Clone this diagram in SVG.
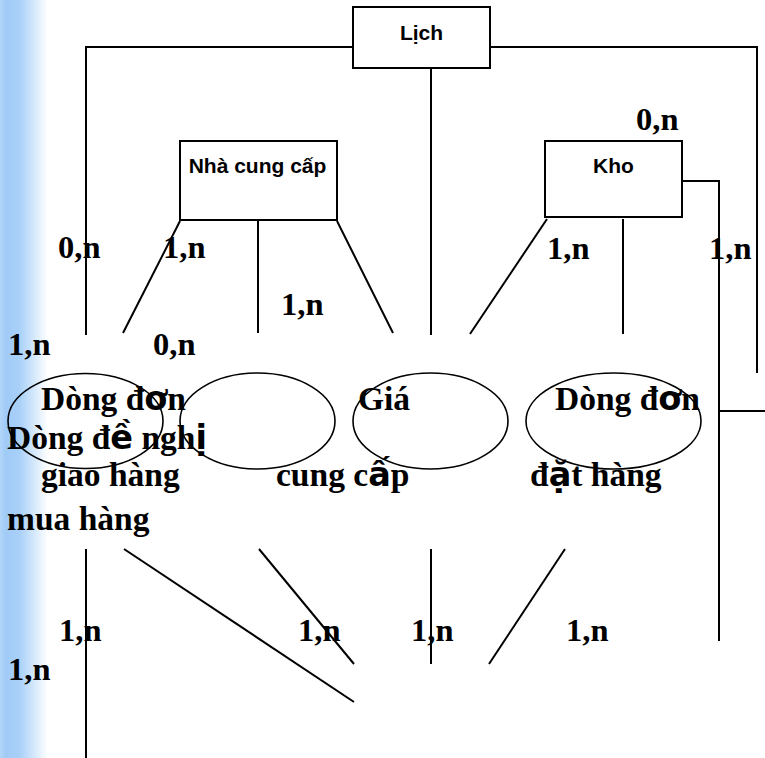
<svg xmlns="http://www.w3.org/2000/svg" width="765" height="758" viewBox="0 0 765 758">
  <defs>
    <linearGradient id="sideBar" x1="0" y1="0" x2="1" y2="0">
      <stop offset="0" stop-color="#b3d6f9"/>
      <stop offset="0.12" stop-color="#a0cbf7"/>
      <stop offset="0.4" stop-color="#a8d0f8"/>
      <stop offset="1" stop-color="#ffffff"/>
    </linearGradient>
  </defs>
  <style>
    .box { fill: #ffffff; stroke: #000000; stroke-width: 2; }
    .oval { fill: none; stroke: #000000; stroke-width: 1.6; }
    .wire { fill: none; stroke: #000000; stroke-width: 2; }
    .ent { font-family: "Liberation Sans", Arial, sans-serif; font-weight: bold; font-size: 21px; fill: #000000; }
    .card { font-family: "Liberation Serif", "Times New Roman", serif; font-weight: bold; font-size: 32.5px; fill: #000000; }
    .lbl { font-family: "Liberation Serif", "Times New Roman", serif; font-weight: bold; font-size: 33.5px; fill: #000000; }
    .alt { font-family: "DejaVu Sans", sans-serif; font-weight: bold; }
  </style>

  <!-- left side bar -->
  <rect x="0" y="0" width="48" height="758" fill="url(#sideBar)"/>

  <!-- connectors -->
  <g id="connectors">
    <polyline class="wire" points="86,335 86,47 353,47"/>
    <polyline class="wire" points="490,47 757,47 757,373"/>
    <line class="wire" x1="431" y1="68" x2="431" y2="335"/>
    <line class="wire" x1="180" y1="221" x2="123" y2="333"/>
    <line class="wire" x1="258" y1="219" x2="258" y2="333"/>
    <line class="wire" x1="337" y1="221" x2="393" y2="333"/>
    <line class="wire" x1="547" y1="219" x2="470" y2="334"/>
    <line class="wire" x1="623" y1="219" x2="623" y2="334"/>
    <polyline class="wire" points="682,181 719,181 719,641"/>
    <line class="wire" x1="719" y1="411" x2="765" y2="411"/>
    <line class="wire" x1="86" y1="549" x2="86" y2="758"/>
    <line class="wire" x1="124" y1="549" x2="354" y2="702"/>
    <line class="wire" x1="259" y1="549" x2="354" y2="664"/>
    <line class="wire" x1="431" y1="549" x2="431" y2="664"/>
    <line class="wire" x1="565" y1="549" x2="489" y2="664"/>
  </g>

  <!-- entity boxes -->
  <g id="lich">
    <rect class="box" x="353" y="7" width="137" height="61"/>
    <text class="ent" x="421.5" y="40" text-anchor="middle">Lịch</text>
  </g>
  <g id="nha-cung-cap">
    <rect class="box" x="180" y="141" width="157" height="79"/>
    <text class="ent" x="257.5" y="173" text-anchor="middle">Nhà cung cấp</text>
  </g>
  <g id="kho">
    <rect class="box" x="545" y="141" width="137" height="76"/>
    <text class="ent" x="613.5" y="173" text-anchor="middle">Kho</text>
  </g>

  <!-- relationship ovals -->
  <g id="dong-don-giao-hang">
    <ellipse class="oval" cx="85.5" cy="421" rx="77.5" ry="47.5"/>
    <text class="lbl" x="41" y="410">Dòng đ<tspan class="alt">ơ</tspan>n</text>
    <text class="lbl" x="41" y="486">giao hàng</text>
  </g>
  <g id="dong-de-nghi-mua-hang">
    <ellipse class="oval" cx="257.5" cy="421" rx="77.5" ry="48"/>
    <text class="lbl" x="7" y="449">Dòng đ<tspan class="alt">ề</tspan> ngh<tspan class="alt">ị</tspan></text>
    <text class="lbl" x="7" y="530">mua hàng</text>
  </g>
  <g id="gia-cung-cap">
    <ellipse class="oval" cx="430.5" cy="421" rx="77.5" ry="48"/>
    <text class="lbl" x="358" y="410">Giá</text>
    <text class="lbl" x="276" y="486">cung c<tspan class="alt">ấ</tspan>p</text>
  </g>
  <g id="dong-don-dat-hang">
    <ellipse class="oval" cx="613.5" cy="421" rx="87.5" ry="48"/>
    <text class="lbl" x="555" y="410">Dòng đ<tspan class="alt">ơ</tspan>n</text>
    <text class="lbl" x="530" y="486">đ<tspan class="alt">ặ</tspan>t hàng</text>
  </g>

  <!-- cardinalities -->
  <g id="cardinalities">
    <text class="card" x="58" y="258">0,n</text>
    <text class="card" x="163" y="258">1,n</text>
    <text class="card" x="281" y="315">1,n</text>
    <text class="card" x="153" y="355">0,n</text>
    <text class="card" x="8" y="355">1,n</text>
    <text class="card" x="636" y="130">0,n</text>
    <text class="card" x="547" y="259">1,n</text>
    <text class="card" x="709" y="259">1,n</text>
    <text class="card" x="59" y="641">1,n</text>
    <text class="card" x="298" y="641">1,n</text>
    <text class="card" x="411" y="641">1,n</text>
    <text class="card" x="566" y="641">1,n</text>
    <text class="card" x="8" y="680">1,n</text>
  </g>
</svg>
